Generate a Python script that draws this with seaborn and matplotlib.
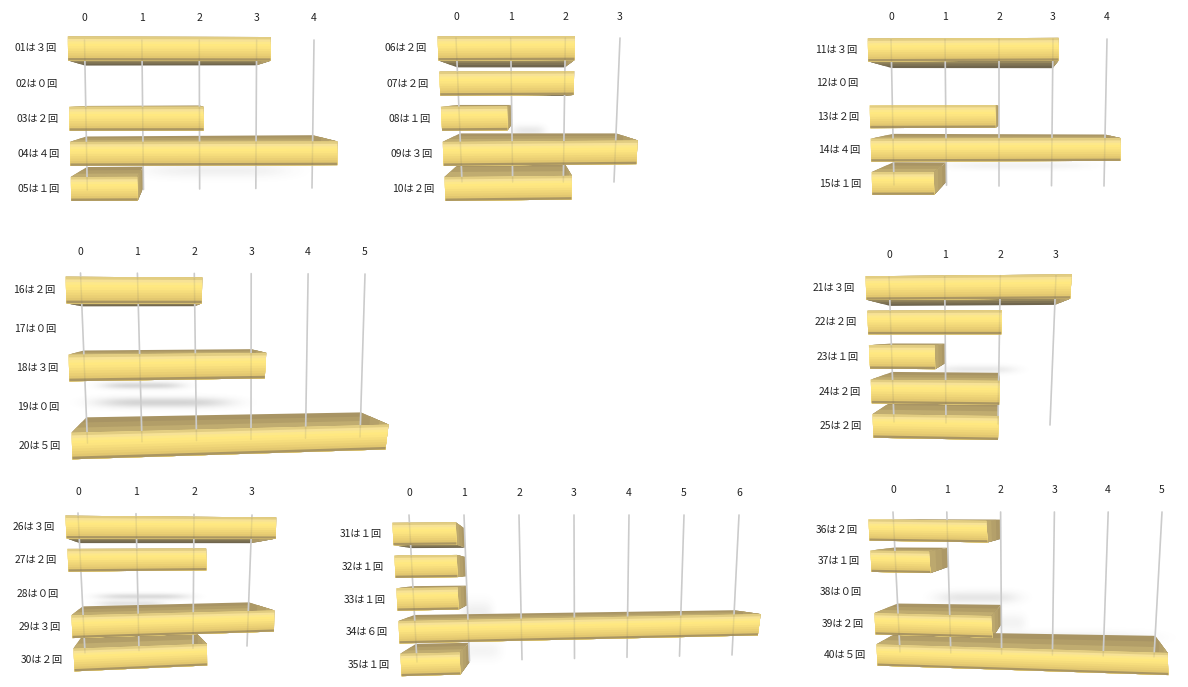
import matplotlib
matplotlib.use("Agg")
import matplotlib.pyplot as plt
import numpy as np
import seaborn as sns
from matplotlib.transforms import Affine2D, Transform

W, H = 1188, 687

# values
panel_ids = [1, 6, 11, 16, 21, 26, 31, 36]
counts_a = [3, 0, 2, 4, 1]
counts_b = [2, 2, 1, 3, 2]
counts_c = [3, 0, 2, 4, 1]
counts_d = [2, 0, 3, 0, 5]
counts_e = [3, 2, 1, 2, 2]
counts_f = [3, 2, 0, 3, 2]
counts_g = [1, 1, 1, 6, 1]
counts_h = [2, 1, 0, 2, 5]
all_counts = [counts_a, counts_b, counts_c, counts_d, counts_e, counts_f, counts_g, counts_h]
axis_max = [4, 3, 4, 5, 3, 3, 6, 5]

# geometry of each fake-3d panel:
# c = front plane corners (0/max on rows 0 and 4), g = grid line ends (0/max, top/bottom),
# vp_y + k place the rows on the back plane, tick_y = y of the tick labels
layout = [
    dict(c=[(68, 48.5), (338, 49), (71, 189), (337, 188)],
         g=[(84.5, 40), (314, 40), (87.3, 190), (312, 188)], vp_y=100, k=0.87, tick_y=18),
    dict(c=[(438, 48.5), (643, 48), (445, 189), (635, 187)],
         g=[(456, 38), (620, 38), (462, 182), (614, 182)], vp_y=97, k=0.81, tick_y=17),
    dict(c=[(868, 50), (1122, 49), (872, 183.5), (1120, 183)],
         g=[(891, 39), (1107, 39), (894, 185), (1104, 186)], vp_y=106, k=0.85, tick_y=17),
    dict(c=[(66, 290), (406, 291), (72, 446), (387, 437)],
         g=[(80.5, 273), (365, 274), (87.5, 443), (360, 437)], vp_y=325, k=0.857, tick_y=252),
    dict(c=[(866, 288), (1071, 286.5), (873, 426), (1061, 429)],
         g=[(889, 277), (1056, 275), (894, 422), (1050, 425)], vp_y=335, k=0.825, tick_y=255),
    dict(c=[(66, 527), (276, 528), (74, 660), (273.5, 652)],
         g=[(78, 513), (252, 515), (85, 653), (247, 646)], vp_y=565, k=0.82, tick_y=492),
    dict(c=[(393, 534), (772, 531), (401, 665), (755, 656)],
         g=[(409, 515), (739, 515), (417, 662), (732, 655)], vp_y=570, k=0.88, tick_y=493),
    dict(c=[(869, 530), (1164, 534), (877, 655), (1168, 664)],
         g=[(893, 512), (1162, 512), (900, 652), (1154, 657)], vp_y=520, k=0.897, tick_y=490),
]

# soft shadows on the floor: cx, cy, half width, half height, strength
shadows = [
    (217, 170, 70, 7, 0.08), (528, 130, 16, 5, 0.12), (1015, 165, 72, 4, 0.07),
    (142, 385, 40, 3.5, 0.22), (163, 402, 66, 5, 0.24), (977, 369, 38, 4, 0.12),
    (143, 596, 45, 3, 0.2), (130, 603, 33, 3, 0.15), (477, 612, 15, 11, 0.09),
    (480, 650, 20, 9, 0.06), (977, 597, 40, 6, 0.14), (1070, 637, 80, 6, 0.08),
    (1010, 622, 15, 8, 0.07),
]

front_colors = np.array([
    [226, 205, 130], [247, 226, 150], [253, 232, 138], [255, 232, 128],
    [252, 228, 128], [246, 221, 124], [240, 214, 120], [234, 207, 116],
    [226, 199, 112], [170, 150, 98],
]) / 255
top_color = np.array([[168, 148, 100], [178, 158, 104], [192, 172, 112]]) / 255
bottom_color = np.array([[112, 102, 78], [128, 116, 84], [150, 135, 92]]) / 255
side_color = np.array([[172, 152, 102], [180, 160, 106], [188, 168, 110]]) / 255


class Bilinear(Transform):
    # (value, row) -> pixel, from the four corners of a plane
    input_dims = output_dims = 2
    is_separable = False

    def __init__(self, x_range, y_range, corners):
        super().__init__()
        self.x0, self.x1 = x_range
        self.y0, self.y1 = y_range
        self.p = np.array(corners, float)

    def transform_non_affine(self, values):
        values = np.asarray(values, float)
        u = ((values[:, 0] - self.x0) / (self.x1 - self.x0))[:, None]
        t = ((values[:, 1] - self.y0) / (self.y1 - self.y0))[:, None]
        top = self.p[0] * (1 - u) + self.p[1] * u
        bottom = self.p[2] * (1 - u) + self.p[3] * u
        return top * (1 - t) + bottom * t

    def transform_path_non_affine(self, path):
        return type(path)(self.transform_non_affine(path.vertices), path.codes)


def shade(ax, edge_a, edge_b, colors):
    # painter's gradient from edge_a to edge_b, each step overlaps the rest so no seams show
    for t, col in zip(np.linspace(0, 1, len(colors), endpoint=False), colors):
        start = edge_a * (1 - t) + edge_b * t
        poly = np.vstack([start, edge_b[::-1]])
        ax.fill(poly[:, 0], poly[:, 1], color=col, lw=0, transform=pix)


def layer():
    return fig.add_axes([0, 0, 1, 1], facecolor="none")


def finish(ax):
    ax.set_xlim(0, W)
    ax.set_ylim(H, 0)
    ax.set_axis_off()


sns.set_theme(style="white")
plt.rcParams["font.family"] = ["Noto Sans CJK JP", "DejaVu Sans"]

fig = plt.figure(figsize=(W / 100, H / 100), dpi=100, facecolor="white")
pix = Affine2D().scale(1, -1).translate(0, H)

# shadows
bg = layer()
yy, xx = np.mgrid[0:H, 0:W]
alpha = np.zeros((H, W))
for cx, cy, hw, hh, s in shadows:
    alpha += s * np.exp(-(((xx - cx) / hw) ** 4) - ((yy - cy) / hh) ** 2)
rgba = np.dstack([np.full((H, W, 3), 0.3), np.clip(alpha, 0, 1)])
bg.imshow(rgba, extent=(0, W, H, 0), aspect="auto", interpolation="bilinear")
finish(bg)

for first, counts, vmax, geo in zip(panel_ids, all_counts, axis_max, layout):
    labels = [f"{first + i:02d}は{chr(0xFF10 + n)}回" for i, n in enumerate(counts)]
    under, ax, over = layer(), layer(), layer()
    sns.barplot(x=counts, y=list(range(len(counts))), orient="h", color="#f5dc80",
                saturation=1, width=0.68, ax=ax)

    front = Bilinear((0, vmax), (0, 4), geo["c"])

    # rows of the grid ends, then the back plane follows the grid lines
    y0, y4 = geo["c"][0][1], geo["c"][2][1]
    yc, k = geo["vp_y"], geo["k"]
    r_top = 4 * (yc + (geo["g"][0][1] - yc) / k - y0) / (y4 - y0)
    r_bot = 4 * (yc + (geo["g"][2][1] - yc) / k - y0) / (y4 - y0)
    back = Bilinear((0, vmax), (r_top, r_bot), geo["g"])

    for v in range(vmax + 1):
        under.plot([v, v], [r_top, r_bot], color="#dadada", lw=1.2, transform=back + pix)
        over.plot([v, v], [r_top, r_bot], color="#6a6a6a", lw=1.1, alpha=0.13, transform=back + pix, zorder=6)
        tx, _ = back.transform((v, r_top))
        over.text(tx, geo["tick_y"], str(v), transform=pix, ha="center", va="center",
                  fontsize=7.5, color="#222222", zorder=7)

    for r, lab in enumerate(labels):
        lx, ly = front.transform((0, r))
        over.text(lx - 32, ly, lab, transform=pix, ha="center", va="center",
                  fontsize=7.4, color="#222222", zorder=7)

    for patch in ax.patches:
        x, y, w, h = patch.get_x(), patch.get_y(), patch.get_width(), patch.get_height()
        if w == 0:
            patch.set_visible(False)
            continue
        patch.set_transform(front + pix)
        patch.set_linewidth(0)
        top_edge = [(x, y), (x + w, y)]
        bottom_edge = [(x, y + h), (x + w, y + h)]
        end_edge = [(x + w, y), (x + w, y + h)]
        shade(under, back.transform(top_edge), front.transform(top_edge), top_color)
        shade(under, back.transform(bottom_edge), front.transform(bottom_edge), bottom_color)
        shade(under, back.transform(end_edge), front.transform(end_edge), side_color)
        # shading of the front face
        shade(over, front.transform(top_edge), front.transform(bottom_edge), front_colors)

    for a in (under, ax, over):
        finish(a)

fig.savefig("out.png", dpi=100)
